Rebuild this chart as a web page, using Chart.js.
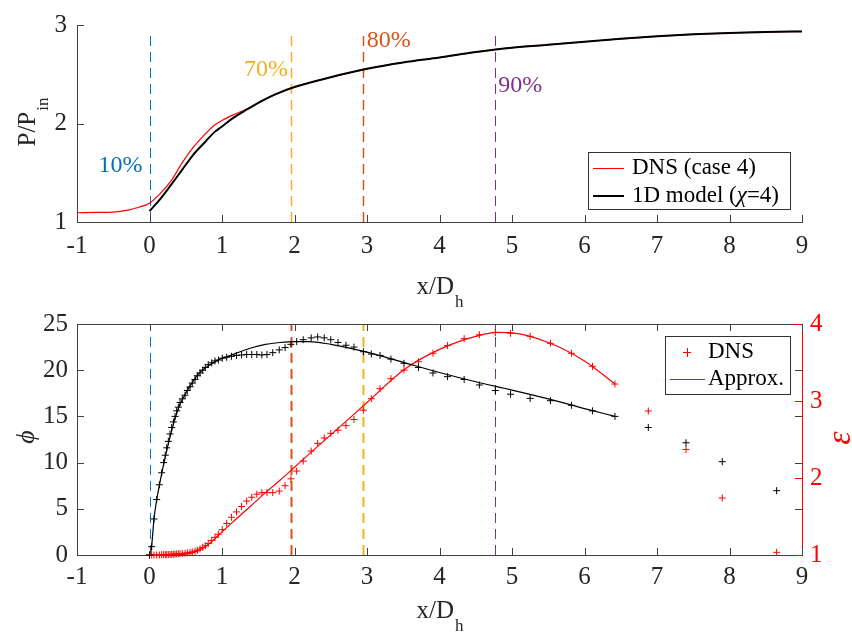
<!DOCTYPE html>
<html>
<head>
<meta charset="utf-8">
<script src="https://cdn.jsdelivr.net/npm/chart.js@4.4.1/dist/chart.umd.min.js"></script>
<style>
body { margin: 0; background: #fff; }
#wrap { position: relative; width: 852px; height: 634px; overflow: hidden; }
canvas { position: absolute; left: 0; }
#topChart { top: 0; }
#botChart { top: 300px; }
</style>
</head>
<body>
<div id="wrap">
<canvas id="topChart" width="852" height="310"></canvas>
<canvas id="botChart" width="852" height="334"></canvas>
</div>
<script>
const FONT = '"Liberation Serif", "Times New Roman", serif';
const AXIS = '#404040';
const TXT = '#262626';

// ticks
const xTicks = [-1, 0, 1, 2, 3, 4, 5, 6, 7, 8, 9];
const pTicks = [1, 2, 3];
const phiTicks = [0, 5, 10, 15, 20, 25];
const epsTicks = [1, 2, 3, 4];

// top panel: pressure ratio
const dnsTopX = [-1, -0.75, -0.5, -0.3, -0.15, 0, 0.15, 0.3, 0.45, 0.6, 0.75, 0.9, 1.0, 1.15, 1.35, 1.55, 1.75, 2.0, 2.5, 3.0, 3.5, 4.0, 4.5, 5.0, 5.5, 6.0, 6.5, 7.0, 7.5, 8.0, 8.5, 9.0];
const dnsTopP = [1.094, 1.097, 1.10, 1.12, 1.15, 1.19, 1.29, 1.42, 1.60, 1.755, 1.88, 1.985, 2.03, 2.085, 2.15, 2.225, 2.30, 2.37, 2.47, 2.555, 2.62, 2.67, 2.725, 2.77, 2.80, 2.83, 2.86, 2.885, 2.905, 2.92, 2.93, 2.935];
const modelX = [0, 0.15, 0.3, 0.45, 0.6, 0.75, 0.9, 1.0, 1.15, 1.35, 1.55, 1.75, 2.0, 2.5, 3.0, 3.5, 4.0, 4.5, 5.0, 5.5, 6.0, 6.5, 7.0, 7.5, 8.0, 8.5, 9.0];
const modelP = [1.11, 1.235, 1.38, 1.53, 1.68, 1.80, 1.915, 1.97, 2.055, 2.145, 2.23, 2.30, 2.37, 2.47, 2.555, 2.62, 2.67, 2.725, 2.77, 2.80, 2.83, 2.86, 2.885, 2.905, 2.92, 2.93, 2.935];

// percentage markers (same x in both panels)
const markX = [0, 1.95, 2.94, 4.77];
const markText = ['10%', '70%', '80%', '90%'];
const markTextY = [1.573, 2.544, 2.845, 2.379];

// bottom panel: DNS samples
const dnsX = [0, 0.03, 0.062, 0.099, 0.136, 0.168, 0.195, 0.218, 0.237, 0.26, 0.283, 0.306, 0.329, 0.352, 0.375, 0.398, 0.421, 0.453, 0.49, 0.522, 0.559, 0.59, 0.628, 0.66, 0.697, 0.734, 0.77, 0.81, 0.858, 0.903, 0.95, 1.004, 1.065, 1.13, 1.20, 1.27, 1.34, 1.41, 1.48, 1.55, 1.62, 1.70, 1.79, 1.87, 1.95, 2.03, 2.12, 2.23, 2.32, 2.41, 2.50, 2.60, 2.71, 2.82, 2.95, 3.06, 3.18, 3.33, 3.51, 3.71, 3.91, 4.11, 4.34, 4.55, 4.77, 4.98, 5.25, 5.53, 5.82, 6.11, 6.42, 6.88, 7.40, 7.90, 8.65];
const dnsPhi = [0, 0.9, 3.9, 6.0, 7.6, 8.9, 10.0, 10.8, 11.6, 12.3, 13.1, 13.8, 14.4, 15.0, 15.6, 16.0, 16.5, 16.9, 17.3, 17.8, 18.2, 18.6, 19.0, 19.4, 19.7, 20.0, 20.3, 20.6, 20.8, 21.0, 21.1, 21.3, 21.4, 21.5, 21.6, 21.65, 21.7, 21.7, 21.7, 21.65, 21.7, 21.9, 22.2, 22.45, 22.8, 23.1, 23.3, 23.5, 23.6, 23.5, 23.3, 23.0, 22.7, 22.5, 22.0, 21.75, 21.6, 21.2, 20.75, 20.3, 19.7, 19.3, 19.0, 18.4, 17.8, 17.4, 16.95, 16.7, 16.2, 15.6, 15.0, 13.8, 12.15, 10.1, 6.96];
const dnsEps = [1.0, 1.0, 1.0, 1.0, 1.0, 1.003, 1.004, 1.005, 1.005, 1.006, 1.007, 1.008, 1.01, 1.011, 1.013, 1.015, 1.017, 1.02, 1.024, 1.028, 1.034, 1.04, 1.05, 1.06, 1.078, 1.098, 1.12, 1.15, 1.19, 1.23, 1.27, 1.33, 1.41, 1.49, 1.56, 1.63, 1.70, 1.75, 1.79, 1.81, 1.81, 1.81, 1.83, 1.90, 1.99, 2.09, 2.22, 2.35, 2.45, 2.52, 2.58, 2.62, 2.68, 2.76, 2.88, 3.03, 3.16, 3.29, 3.40, 3.51, 3.62, 3.72, 3.81, 3.86, 3.89, 3.88, 3.84, 3.75, 3.62, 3.45, 3.22, 2.87, 2.37, 1.74, 1.035];

// bottom panel: approximations
const phiFitX = [0.01, 0.03, 0.062, 0.1, 0.14, 0.2, 0.3, 0.4, 0.5, 0.6, 0.7, 0.8, 0.9, 1.0, 1.1, 1.2, 1.4, 1.6, 1.8, 2.0, 2.2, 2.5, 3.0, 3.5, 4.0, 4.5, 5.0, 5.5, 6.0, 6.42];
const phiFit = [0, 1.0, 3.9, 6.0, 7.7, 10.0, 13.3, 15.9, 17.5, 18.8, 19.8, 20.4, 20.9, 21.3, 21.55, 21.85, 22.4, 22.8, 23.0, 23.1, 23.1, 22.8, 21.95, 20.85, 19.75, 18.75, 17.85, 16.9, 15.85, 15.0];
const epsFitX = [0, 0.2, 0.4, 0.5, 0.6, 0.7, 0.8, 0.9, 1.0, 1.2, 1.4, 1.6, 1.8, 2.0, 2.2, 2.5, 3.0, 3.5, 4.0, 4.5, 4.8, 5.0, 5.5, 6.0, 6.42];
const epsFit = [1.0, 1.0, 1.005, 1.01, 1.03, 1.07, 1.13, 1.21, 1.3, 1.47, 1.64, 1.81, 1.97, 2.14, 2.31, 2.56, 2.98, 3.40, 3.67, 3.84, 3.89, 3.885, 3.76, 3.52, 3.22];

function pts(xs, ys) {
    return xs.map((v, i) => ({ x: v, y: ys[i] }));
}

const blue = '#0072BD', orange = '#D95319', yellow = '#EDB120', purple = '#7E2F8E';
const topMarkColors = [blue, yellow, orange, purple];
const botMarkColors = [blue, orange, yellow, purple];

function px(v) { return Math.round(v) + 0.5; }

// text with a subscript, centred on cx, optionally turned to read bottom-to-top
function subTitle(ctx, main, sub, cx, cy, opt) {
    const size = opt.size || 25, subSize = opt.subSize || 17;
    const style = opt.italic ? 'italic ' : '';
    ctx.save();
    ctx.translate(cx, cy);
    if (opt.rot) ctx.rotate(-Math.PI / 2);
    ctx.fillStyle = opt.color || TXT;
    ctx.textAlign = 'left';
    ctx.textBaseline = 'alphabetic';
    ctx.font = style + size + 'px ' + FONT;
    const w1 = ctx.measureText(main).width;
    ctx.font = subSize + 'px ' + FONT;
    const w2 = sub ? ctx.measureText(sub).width + 1 : 0;
    const x0 = -(w1 + w2) / 2;
    ctx.font = style + size + 'px ' + FONT;
    ctx.fillText(main, x0, 0);
    if (sub) {
        ctx.font = subSize + 'px ' + FONT;
        ctx.fillText(sub, x0 + w1 + 1, 13);
    }
    ctx.restore();
}

function dashed(ctx, x, y0, y1, color, w) {
    ctx.save();
    ctx.strokeStyle = color;
    ctx.lineWidth = w;
    ctx.setLineDash([10, 6]);
    ctx.beginPath();
    ctx.moveTo(px(x), y0);
    ctx.lineTo(px(x), y1);
    ctx.stroke();
    ctx.restore();
}

function tick(ctx, x0, y0, x1, y1, color) {
    ctx.strokeStyle = color;
    ctx.beginPath();
    ctx.moveTo(x0, y0);
    ctx.lineTo(x1, y1);
    ctx.stroke();
}

const topDecor = {
    id: 'topDecor',
    beforeDatasetsDraw(chart) {
        const { ctx, scales: { x, y } } = chart;
        markX.forEach((v, i) => {
            const w = (i == 1 || i == 2) ? 1.5 : 1;
            dashed(ctx, x.getPixelForValue(v), y.getPixelForValue(1), y.getPixelForValue(2.95), topMarkColors[i], w);
        });
    },
    afterDraw(chart) {
        const { ctx, chartArea: a, scales: { x, y } } = chart;
        ctx.save();
        ctx.lineWidth = 1;
        xTicks.forEach(v => {
            const p = px(x.getPixelForValue(v));
            tick(ctx, p, a.bottom, p, a.bottom - 7, AXIS);
        });
        pTicks.forEach(v => {
            const p = px(y.getPixelForValue(v));
            tick(ctx, a.left, p, a.left + 7, p, AXIS);
        });
        // percentage labels
        ctx.font = '24px ' + FONT;
        ctx.textBaseline = 'middle';
        markX.forEach((v, i) => {
            const left = i >= 2;
            ctx.textAlign = left ? 'left' : 'right';
            ctx.fillStyle = topMarkColors[i];
            const off = [-7, -3, 4, 3][i];
            ctx.fillText(markText[i], x.getPixelForValue(v) + off, y.getPixelForValue(markTextY[i]));
        });
        // legend
        ctx.fillStyle = '#fff';
        ctx.fillRect(588.5, 152.5, 202, 57);
        ctx.strokeStyle = '#333';
        ctx.strokeRect(588.5, 152.5, 202, 57);
        ctx.lineWidth = 1;
        tick(ctx, 593, 168.5, 624, 168.5, '#ff0000');
        ctx.lineWidth = 2;
        tick(ctx, 593, 196, 624, 196, '#000');
        ctx.fillStyle = '#000';
        ctx.textAlign = 'left';
        ctx.textBaseline = 'middle';
        ctx.font = '23px ' + FONT;
        ctx.fillText('DNS (case 4)', 632, 168);
        let tx = 632;
        ctx.fillText('1D model (', tx, 196);
        tx += ctx.measureText('1D model (').width;
        ctx.font = 'italic 23px ' + FONT;
        ctx.fillText('χ', tx, 196);
        tx += ctx.measureText('χ').width;
        ctx.font = '23px ' + FONT;
        ctx.fillText('=4)', tx, 196);
        ctx.restore();
        subTitle(ctx, 'x/D', 'h', 440, 294, {});
        subTitle(ctx, 'P/P', 'in', 35, 122, { rot: true });
    }
};

const botDecor = {
    id: 'botDecor',
    beforeDatasetsDraw(chart) {
        const { ctx, chartArea: a, scales: { x } } = chart;
        markX.forEach((v, i) => {
            const w = (i == 1 || i == 2) ? 2 : 1;
            dashed(ctx, x.getPixelForValue(v), a.bottom, a.top, botMarkColors[i], w);
        });
    },
    afterDraw(chart) {
        const { ctx, chartArea: a, scales: { x, y, y2 } } = chart;
        ctx.save();
        ctx.lineWidth = 1;
        tick(ctx, a.left, px(a.top), a.right, px(a.top), AXIS);
        xTicks.forEach(v => {
            const p = px(x.getPixelForValue(v));
            tick(ctx, p, a.bottom, p, a.bottom - 7, AXIS);
            tick(ctx, p, a.top, p, a.top + 7, AXIS);
        });
        phiTicks.forEach(v => {
            const p = px(y.getPixelForValue(v));
            tick(ctx, a.left, p, a.left + 7, p, AXIS);
            tick(ctx, a.right, p, a.right - 7, p, AXIS);
        });
        epsTicks.forEach(v => {
            const p = px(y2.getPixelForValue(v));
            tick(ctx, a.right, p, a.right - 7, p, '#ff0000');
        });
        // legend
        ctx.fillStyle = '#fff';
        ctx.fillRect(665.5, 36.5, 125, 58);
        ctx.strokeStyle = '#333';
        ctx.strokeRect(665.5, 36.5, 125, 58);
        tick(ctx, 683, 52.5, 691, 52.5, '#ff0000');
        tick(ctx, 687.5, 48, 687.5, 57, '#ff0000');
        tick(ctx, 670, 79.5, 705, 79.5, '#ff0000');
        ctx.fillStyle = '#000';
        ctx.textAlign = 'left';
        ctx.textBaseline = 'middle';
        ctx.font = '23px ' + FONT;
        ctx.fillText('DNS', 708, 52);
        ctx.fillText('Approx.', 708, 79);
        ctx.restore();
        subTitle(ctx, 'x/D', 'h', 440, 318, {});
        subTitle(ctx, 'ϕ', '', 34, 137, { rot: true, italic: true, size: 26 });
        subTitle(ctx, 'ε', '', 850, 138, { rot: true, italic: true, size: 34, color: '#ff0000' });
    }
};

const tickFont = { family: FONT, size: 25 };

new Chart(document.getElementById('topChart'), {
    type: 'scatter',
    data: {
        datasets: [{
            data: pts(modelX, modelP),
            showLine: true,
            borderColor: '#000',
            borderWidth: 2,
            pointRadius: 0,
            cubicInterpolationMode: 'monotone'
        }, {
            data: pts(dnsTopX, dnsTopP),
            showLine: true,
            borderColor: '#ff0000',
            borderWidth: 1.2,
            pointRadius: 0,
            cubicInterpolationMode: 'monotone'
        }]
    },
    options: {
        responsive: false,
        animation: false,
        devicePixelRatio: 1,
        layout: { padding: { top: 16, right: 50, left: 0, bottom: 0 } },
        plugins: { legend: { display: false }, tooltip: { enabled: false } },
        scales: {
            x: {
                type: 'linear', min: -1, max: 9,
                afterFit(s) { s.height = 88; },
                afterBuildTicks(s) { s.ticks = xTicks.map(v => ({ value: v })); },
                grid: { display: true, drawOnChartArea: false, drawTicks: false },
                border: { display: true, color: AXIS, width: 1 },
                ticks: { font: tickFont, color: TXT, padding: 9, maxRotation: 0 }
            },
            y: {
                type: 'linear', min: 1, max: 3,
                afterFit(s) { s.width = 77; },
                afterBuildTicks(s) { s.ticks = pTicks.map(v => ({ value: v })); },
                grid: { display: true, drawOnChartArea: false, drawTicks: false },
                border: { display: true, color: AXIS, width: 1 },
                ticks: { font: tickFont, color: TXT, padding: 10 }
            }
        }
    },
    plugins: [topDecor]
});

new Chart(document.getElementById('botChart'), {
    type: 'scatter',
    data: {
        datasets: [{
            data: pts(dnsX, dnsPhi),
            yAxisID: 'y',
            pointStyle: 'cross',
            pointRadius: 3.5,
            pointBorderWidth: 1,
            borderColor: '#000',
            clip: false
        }, {
            data: pts(phiFitX, phiFit),
            yAxisID: 'y',
            showLine: true,
            borderColor: '#000',
            borderWidth: 1.2,
            pointRadius: 0,
            cubicInterpolationMode: 'monotone'
        }, {
            data: pts(dnsX, dnsEps),
            yAxisID: 'y2',
            pointStyle: 'cross',
            pointRadius: 3.5,
            pointBorderWidth: 1,
            borderColor: '#ff0000',
            clip: false
        }, {
            data: pts(epsFitX, epsFit),
            yAxisID: 'y2',
            showLine: true,
            borderColor: '#ff0000',
            borderWidth: 1.2,
            pointRadius: 0,
            cubicInterpolationMode: 'monotone'
        }]
    },
    options: {
        responsive: false,
        animation: false,
        devicePixelRatio: 1,
        layout: { padding: { top: 24, right: 0, left: 0, bottom: 0 } },
        plugins: { legend: { display: false }, tooltip: { enabled: false } },
        scales: {
            x: {
                type: 'linear', min: -1, max: 9,
                afterFit(s) { s.height = 79; },
                afterBuildTicks(s) { s.ticks = xTicks.map(v => ({ value: v })); },
                grid: { display: true, drawOnChartArea: false, drawTicks: false },
                border: { display: true, color: AXIS, width: 1 },
                ticks: { font: tickFont, color: TXT, padding: 7, maxRotation: 0 }
            },
            y: {
                type: 'linear', position: 'left', min: 0, max: 25,
                afterFit(s) { s.width = 77; },
                afterBuildTicks(s) { s.ticks = phiTicks.map(v => ({ value: v })); },
                grid: { display: true, drawOnChartArea: false, drawTicks: false },
                border: { display: true, color: AXIS, width: 1 },
                ticks: { font: tickFont, color: TXT, padding: 9 }
            },
            y2: {
                type: 'linear', position: 'right', min: 1, max: 4,
                afterFit(s) { s.width = 50; },
                afterBuildTicks(s) { s.ticks = epsTicks.map(v => ({ value: v })); },
                grid: { display: true, drawOnChartArea: false, drawTicks: false },
                border: { display: true, color: '#ff0000', width: 1 },
                ticks: { font: tickFont, color: '#ff0000', padding: 8 }
            }
        }
    },
    plugins: [botDecor]
});
</script>
</body>
</html>
